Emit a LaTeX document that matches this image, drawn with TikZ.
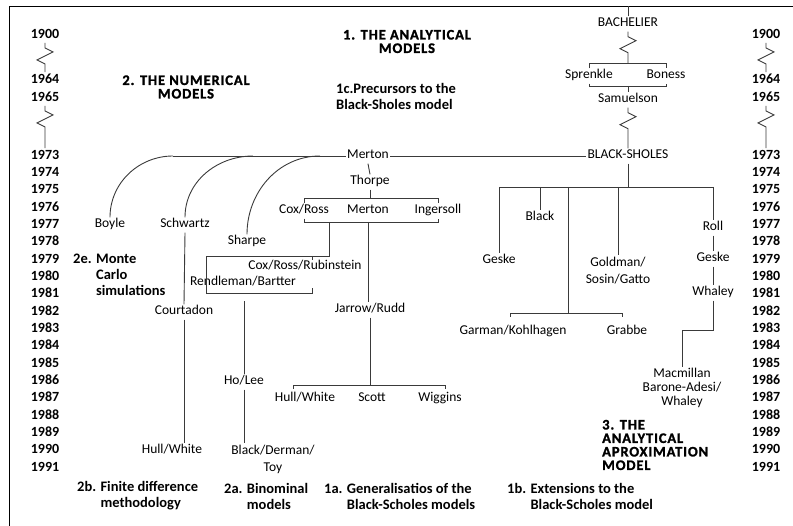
\documentclass[tikz,border=0pt]{standalone}
\usepackage{fontspec}
\setmainfont{Carlito}
\newfontfamily\heavyfont{Carlito}[BoldFeatures={FakeBold=1.5,LetterSpace=6}]
\usetikzlibrary{positioning}
\definecolor{tline}{HTML}{3A3A3A}
\tikzset{
 who/.style={font=\fontsize{13.5}{16}\selectfont, inner sep=1.5pt, text height=9pt, text depth=3pt},
 whos/.style={font=\fontsize{13.5}{17}\selectfont, inner sep=1.5pt, align=center},
 yr/.style={font=\bfseries\fontsize{14}{16}\selectfont, inner sep=1.5pt, text height=9.5pt, text depth=3pt},
 head/.style={font=\heavyfont\bfseries\fontsize{14.5}{13.5}\selectfont, inner sep=0pt, align=center},
 sub/.style={font=\bfseries\fontsize{14.5}{16}\selectfont, inner sep=0pt, align=left, anchor=west},
 link/.style={draw=tline, line width=0.9pt},
 zig/.style={to path={-- ++(0,-5) -- ++(8,-4) -- ++(-16,-8) -- ++(8,-4) -- (\tikztotarget)}}
}

\begin{document}
\begin{tikzpicture}[x=1pt,y=1pt]
 \useasboundingbox (0,0) rectangle (793,-526);
 \draw[line width=0.9pt] (9,-526) -- (9,-6) coordinate (ftop) -- (793,-6);
 % years, both sides
 \foreach \yr/\y in {1900/35,1964/80,1965/98} {
  \node[yr] (L\yr) at (45,-\y) {\yr};
  \node[yr] (R\yr) at (766,-\y) {\yr};
 }
 \foreach \yr in {1973,...,1991} {
  \node[yr] (L\yr) at (45,{-156-17.33*(\yr-1973)}) {\yr};
  \node[yr] (R\yr) at (766,{-156-17.33*(\yr-1973)}) {\yr};
 }
 \foreach \s in {L,R} {
  \draw[link] (\s1900.south) to[zig] (\s1964.north);
  \draw[link] (\s1965.south) to[zig] (\s1973.north);
 }
 % headings
 \node[head] (h1) at (407,-41.5) {1. THE ANALYTICAL\\MODELS};
 \node[head] (h2) at (186,-87) {2. THE NUMERICAL\\MODELS};
 \node[head, align=left, anchor=west] (h3) at (602,-445) {3. THE\\ANALYTICAL\\APROXIMATION\\MODEL};
 \node[sub] (h1c) at (336,-96.5) {1c.Precursors to the\\Black-Sholes model};
 \node[sub] (h2e) at (73,-274.5) {2e. Monte\\\phantom{2e. }Carlo\\\phantom{2e. }simulations};
 \node[sub] (h2b) at (77,-496) {2b. Finite difference\\\phantom{2b. }methodology};
 \node[sub] (h2a) at (224,-496) {2a. Binominal\\\phantom{2a. }models};
 \node[sub] (h1a) at (324,-496) {1a. Generalisatios of the\\\phantom{1a. }Black-Scholes models};
 \node[sub] (h1b) at (507,-496) {1b. Extensions to the\\\phantom{1b. }Black-Scholes model};
 % precursors
 \node[who] (bach) at (628,-24) {BACHELIER};
 \node[who] (sprenkle) at (589,-76) {Sprenkle};
 \node[who] (boness) at (666,-76) {Boness};
 \node[who] (samuelson) at (628,-100) {Samuelson};
 \node[who] (bs) at (628,-156) {BLACK-SHOLES};
 \coordinate (tb2) at (628,-63);
 \coordinate (bb2) at (628,-86);
 \draw[link] (bach.north) -- (bach.north |- ftop);
 \draw[link] (bach.south) to[zig] (tb2);
 \draw[link] (sprenkle.north) -- (sprenkle.north |- tb2) -- (boness.north |- tb2) -- (boness.north);
 \draw[link] (sprenkle.south) -- (sprenkle.south |- bb2) -- (boness.south |- bb2) -- (boness.south);
 \draw[link] (bb2) -- (samuelson.north);
 \draw[link] (samuelson.south) to[zig] (bs.north);
 % Merton branch
 \node[who] (merton) at (368,-156) {Merton};
 \node[who] (thorpe) at (370,-182) {Thorpe};
 \node[who] (coxross) at (304,-211) {Cox/Ross};
 \node[who] (merton2) at (368,-211) {Merton};
 \node[who] (ingersoll) at (438,-211) {Ingersoll};
 \node[who] (boyle) at (110,-225) {Boyle};
 \node[who] (schwartz) at (185,-225) {Schwartz};
 \node[who] (sharpe) at (247,-242) {Sharpe};
 \node[who] (crr) at (305,-267) {Cox/Ross/Rubinstein};
 \node[who] (rendleman) at (243,-283) {Rendleman/Bartter};
 \node[who] (courtadon) at (184,-312) {Courtadon};
 \node[who] (jarrow) at (370,-310) {Jarrow/Rudd};
 \node[who] (holee) at (244,-382) {Ho/Lee};
 \node[who] (hullwhite2) at (305,-399) {Hull/White};
 \node[who] (scott) at (372,-399) {Scott};
 \node[who] (wiggins) at (440,-399) {Wiggins};
 \node[who] (hullwhite1) at (172,-451) {Hull/White};
 \node[whos] (bdt) at (273,-459) {Black/Derman/\\Toy};
 \coordinate (c1) at (173,-156);
 \coordinate (c2) at (253,-156);
 \coordinate (c3) at (320,-156);
 \draw[link] (merton.east) -- (bs.west);
 \draw[link] (merton.west) -- (c1);
 \draw[link] (c1) to[out=180,in=90] (boyle.north);
 \draw[link] (c2) to[out=180,in=90] (schwartz.north);
 \draw[link] (c3) to[out=180,in=90] (sharpe.north);
 \coordinate (tb) at (370,-198);
 \coordinate (bb) at (368,-222);
 \draw[link] (merton.south) -- (thorpe.north);
 \draw[link] (thorpe.south) -- (tb);
 \draw[link] (coxross.north) -- (coxross.north |- tb) -- (ingersoll.north |- tb) -- (ingersoll.north);
 \draw[link] (coxross.south) -- (coxross.south |- bb) -- (ingersoll.south |- bb) -- (ingersoll.south);
 \draw[link] (bb) -- (bb |- jarrow.north);
 \coordinate (crb) at (329,-222);
 \coordinate (crr1) at (206,-256);
 \coordinate (crr2) at (312,-293);
 \draw[link] (crb) |- (crr1) |- (crr2) -- ++(0,5);
 \draw[link] (crr1 -| crr2) -- ++(0,-4);
 \draw[link] (holee.north) -- ++(0,73);
 \draw[link] (holee.south) -- (holee.south |- bdt.north);
 \draw[link] (schwartz.south) -- (courtadon.north);
 \draw[link] (courtadon.south) -- (courtadon.south |- hullwhite1.north);
 \coordinate (jl) at (293,-385);
 \coordinate (jr) at (445,-385);
 \draw[link] (jarrow.south) -- (jarrow.south |- jl);
 \draw[link] (jl) ++(0,-4) -- (jl) -- (jr) -- ++(0,-4);
 % Black-Sholes branch
 \node[who] (geske1) at (499,-261) {Geske};
 \node[who] (black) at (540,-218) {Black};
 \node[whos] (goldman) at (618,-270.5) {Goldman/\\Sosin/Gatto};
 \node[who] (garman) at (513,-332) {Garman/Kohlhagen};
 \node[who] (grabbe) at (627,-332) {Grabbe};
 \node[who] (roll) at (713,-228) {Roll};
 \node[who] (geske2) at (713,-259) {Geske};
 \node[who] (whaley) at (713,-293) {Whaley};
 \node[whos, font=\fontsize{13.5}{14}\selectfont] (macmillan) at (682,-388) {Macmillan\\Barone-Adesi/\\Whaley};
 \coordinate (bj) at (628,-187);
 \coordinate (gk) at (568,-313);
 \draw[link] (bs.south) -- (bj);
 \draw[link] (geske1.north |- bj) -- (roll.north |- bj);
 \draw[link] (geske1.north |- bj) -- (geske1.north);
 \draw[link] (black.north |- bj) -- (black.north);
 \draw[link] (goldman.north |- bj) -- (goldman.north);
 \draw[link] (roll.north |- bj) -- (roll.north);
 \draw[link] (gk |- bj) -- (gk);
 \draw[link] (510,-317) coordinate (gl) -- (gl |- gk) -- (622,-313) coordinate (gr) -- ++(0,-4);
 \draw[link] (roll.south) -- (geske2.north);
 \draw[link] (geske2.south) -- (whaley.north);
 \draw[link] (whaley.south) -- ++(0,-30) -| (macmillan.north);
\end{tikzpicture}
\end{document}
